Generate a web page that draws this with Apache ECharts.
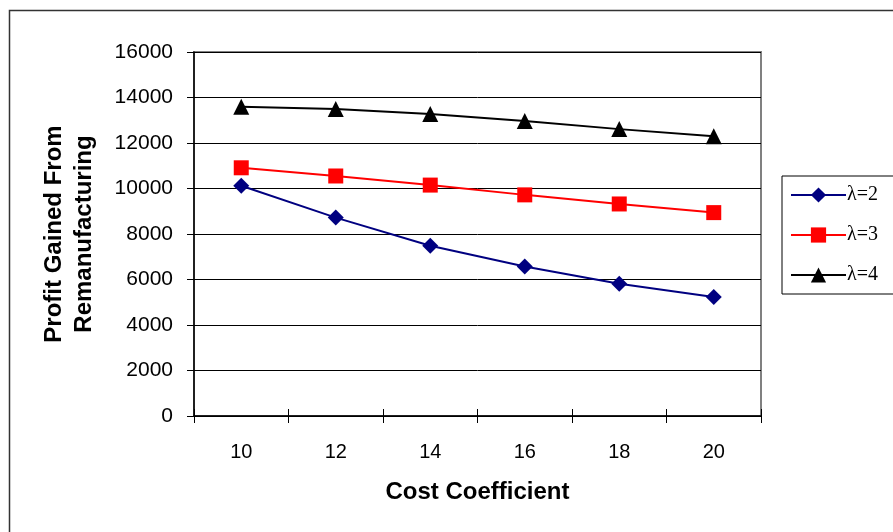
<!DOCTYPE html>
<html>
<head>
<meta charset="utf-8">
<script src="https://cdn.jsdelivr.net/npm/echarts@6/dist/echarts.min.js"></script>
<style>
  html, body { margin: 0; padding: 0; background: #fff; }
  #chart { width: 893px; height: 532px; }
</style>
</head>
<body>
<div id="chart"></div>
<script>
// Cost coefficient categories along the x axis
const costCoefficients = ['10', '12', '14', '16', '18', '20'];

// Profit gained from remanufacturing for each λ
const lambda2 = [10120, 8720, 7480, 6570, 5810, 5230];
const lambda3 = [10910, 10550, 10150, 9720, 9320, 8940];
const lambda4 = [13590, 13490, 13270, 12970, 12610, 12300];

const seriesNames = ['λ=2', 'λ=3', 'λ=4'];
const yTicks = { min: 0, max: 16000, interval: 2000 };

const chart = echarts.init(document.getElementById('chart'), null, { renderer: 'canvas' });

const sans = 'Liberation Sans, Arial, sans-serif';

function lineSeries(name, data, color, symbol, size) {
  return {
    name: name,
    type: 'line',
    data: data,
    symbol: symbol,
    symbolSize: size,
    showAllSymbol: true,
    lineStyle: { color: color, width: 2 },
    itemStyle: { color: color, borderWidth: 0 },
    emphasis: { disabled: true },
    animation: false,
    z: 5
  };
}

chart.setOption({
  animation: false,
  backgroundColor: '#fff',
  graphic: [{
    type: 'rect',
    shape: { x: 9.5, y: 10.5, width: 900, height: 600 },
    style: { fill: 'none', stroke: '#333', lineWidth: 1.5 },
    z: -10
  }],
  grid: {
    left: 194, top: 52, right: 132, bottom: 116,
    show: true, borderColor: '#808080', borderWidth: 2,
    containLabel: false
  },
  legend: {
    orient: 'vertical',
    left: 782, top: 176,
    width: 120,
    padding: [9, 30, 9, 8],
    itemGap: 20,
    itemWidth: 55,
    itemHeight: 19,
    borderColor: '#000',
    borderWidth: 1,
    backgroundColor: '#fff',
    data: seriesNames,
    textStyle: { fontFamily: 'Liberation Serif, Times New Roman, serif', fontSize: 20, color: '#000', padding: [0, 0, 0, -4] }
  },
  xAxis: [{
    type: 'category',
    data: costCoefficients,
    boundaryGap: true,
    name: 'Cost Coefficient',
    nameLocation: 'middle',
    nameGap: 64,
    nameTextStyle: { fontFamily: sans, fontSize: 24, fontWeight: 'bold', color: '#000' },
    axisLine: { lineStyle: { color: '#000', width: 1.5 } },
    axisTick: { show: true, inside: false, length: 7, lineStyle: { color: '#000' } },
    axisLabel: { fontFamily: sans, fontSize: 20, color: '#000', margin: 26 },
    splitLine: { show: false }
  }, {
    type: 'category',
    data: costCoefficients,
    boundaryGap: true,
    position: 'bottom',
    axisLine: { show: false },
    axisTick: { show: true, inside: true, length: 7, lineStyle: { color: '#000' } },
    axisLabel: { show: false },
    splitLine: { show: false }
  }],
  yAxis: {
    type: 'value',
    min: yTicks.min, max: yTicks.max, interval: yTicks.interval,
    name: 'Profit Gained From\nRemanufacturing',
    nameLocation: 'middle',
    nameGap: 95,
    nameTextStyle: { fontFamily: sans, fontSize: 24, fontWeight: 'bold', color: '#000', lineHeight: 30 },
    axisLine: { show: true, lineStyle: { color: '#000', width: 1.5 } },
    axisTick: { show: true, inside: false, length: 7, lineStyle: { color: '#000' } },
    axisLabel: { fontFamily: sans, fontSize: 21, color: '#000', margin: 21, formatter: (v) => String(v) },
    splitLine: { show: true, lineStyle: { color: '#000', width: 1 } }
  },
  series: [
    lineSeries(seriesNames[0], lambda2, '#000080', 'diamond', 16),
    lineSeries(seriesNames[1], lambda3, '#ff0000', 'rect', 15),
    lineSeries(seriesNames[2], lambda4, '#000000', 'triangle', 16)
  ]
});
</script>
</body>
</html>
